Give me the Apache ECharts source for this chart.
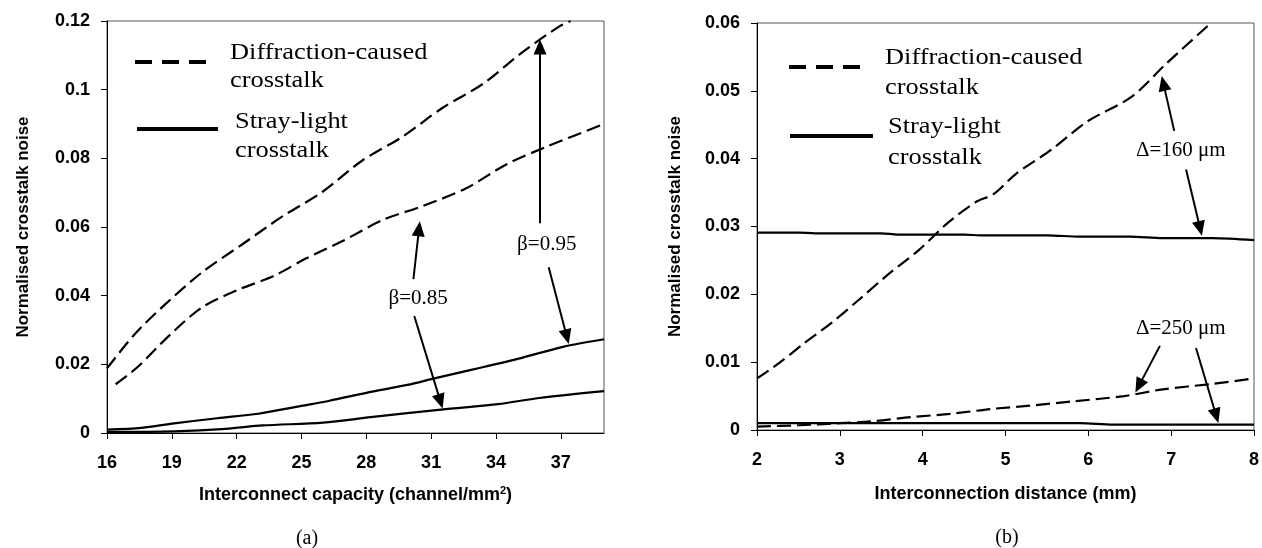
<!DOCTYPE html>
<html>
<head>
<meta charset="utf-8">
<script src="https://cdn.jsdelivr.net/npm/echarts@6/dist/echarts.min.js"></script>
<style>
html,body{margin:0;padding:0;background:#fff;}
#c{width:1262px;height:548px;}
</style>
</head>
<body>
<div id="c"></div>
<script>
// ---- Panel (a): x = interconnect capacity (channel/mm^2) ----
const aDiff095 = [[16,0.0188],[17.24,0.0285],[18.54,0.0366],[20.4,0.0468],[22.25,0.0549],[24.1,0.063],[25.96,0.0702],[27.8,0.0793],[29.7,0.0864],[31.5,0.0946],[33.4,0.1017],[35.2,0.1108],[36.9,0.1183],[37.45,0.12]];
const aDiff085 = [[16.4,0.0142],[17.43,0.0193],[18.9,0.0285],[20.4,0.0366],[22.07,0.0417],[23.74,0.0458],[25.2,0.0508],[26.9,0.0559],[28.75,0.062],[30.6,0.0661],[32.6,0.0712],[34.5,0.0783],[36.35,0.0834],[39,0.09]];
const aStray095 = [[16,0.001],[17.6,0.0015],[19.1,0.0028],[21.1,0.0043],[23,0.0056],[25,0.0079],[26.3,0.0094],[28,0.0117],[29.9,0.014],[31.2,0.016],[33,0.0186],[35.2,0.0219],[37.1,0.0251],[39,0.0273]];
const aStray085 = [[16,0.0003],[19.1,0.0005],[21.5,0.0012],[23.2,0.0022],[26,0.003],[28.2,0.0046],[29.9,0.0058],[31.9,0.0071],[34.1,0.0084],[36,0.0102],[39,0.0122]];
const aXRange = {min:16, max:39, interval:3};
const aXTickValues = [16,19,22,25,28,31,34,37];
const aYTicks = {min:0, max:0.12, interval:0.02};

// ---- Panel (b): x = interconnection distance (mm) ----
const bDiff160 = [[2,0.0076],[2.27,0.0099],[2.56,0.0127],[2.9,0.0158],[3.23,0.0192],[3.57,0.0228],[3.96,0.0266],[4.3,0.0305],[4.64,0.0336],[4.86,0.0348],[5.12,0.0377],[5.55,0.0413],[5.99,0.0455],[6.52,0.0491],[6.94,0.054],[7.48,0.06]];
const bStray160 = [[2,0.0291],[2.5,0.0291],[2.7,0.029],[3.5,0.029],[3.7,0.0288],[4.5,0.0288],[4.7,0.0287],[5.5,0.0287],[5.9,0.0285],[6.5,0.0285],[6.9,0.0283],[7.5,0.0283],[8,0.028]];
const bDiff250 = [[2,0.0005],[2.5,0.0007],[3,0.001],[3.4,0.0013],[3.86,0.0019],[4.35,0.0024],[4.83,0.0031],[5.3,0.0036],[5.8,0.0042],[6.43,0.005],[6.9,0.006],[7.5,0.0068],[8,0.0076]];
const bStray250 = [[2,0.001],[5.9,0.001],[6.3,0.0008],[8,0.0008]];
const bXRange = {min:2, max:8, interval:1};
const bXTickValues = [2,3,4,5,6,7,8];
const bYTicks = {min:0, max:0.06, interval:0.01};

// ---- Annotations (data coordinates) ----
const aLabels = [{text:'β=0.95', at:[36.35,0.055]},{text:'β=0.85', at:[30.4,0.0393]}];
const aArrows = [[[36.04,0.0611],[36.04,0.1124]],[[36.44,0.0483],[37.28,0.028]],[[30.18,0.0448],[30.44,0.0595]],[[30.22,0.0341],[31.43,0.0092]]];
const bLabels = [{text:'Δ=160 μm', at:[7.116,0.0412]},{text:'Δ=250 μm', at:[7.116,0.0149]}];
const bArrows = [[[7.037,0.0441],[6.906,0.0511]],[[7.18,0.0384],[7.35,0.0297]],[[6.864,0.0124],[6.61,0.0065]],[[7.30,0.0121],[7.544,0.0021]]];

const SANS = '"Liberation Sans", Arial, sans-serif';
const SERIF = '"Liberation Serif", "Times New Roman", serif';

function fmt(v){ return String(+v.toFixed(4)); }

function xAxis(idx, t, ticks, name, gap){
  return {
    type:'value', gridIndex:idx, min:t.min, max:t.max, interval:t.interval,
    name:name, nameLocation:'middle', nameGap:gap,
    nameTextStyle:{fontFamily:SANS, fontWeight:'bold', fontSize:18, color:'#000',
      rich:{sup:{fontFamily:SANS, fontWeight:'bold', fontSize:11, color:'#000', verticalAlign:'top', padding:[0,0,10,0]}}},
    axisLine:{show:true, onZero:false, lineStyle:{color:'#000', width:1}},
    axisTick:{show:true, inside:false, length:6, lineStyle:{color:'#000'}, customValues:ticks},
    axisLabel:{fontFamily:SANS, fontWeight:'bold', fontSize:18, color:'#000', margin:21, customValues:ticks},
    splitLine:{show:false}
  };
}
function yAxis(idx, t, gap){
  return {
    type:'value', gridIndex:idx, min:t.min, max:t.max, interval:t.interval,
    name:'Normalised crosstalk noise', nameLocation:'middle', nameGap:gap,
    nameTextStyle:{fontFamily:SANS, fontWeight:'bold', fontSize:17, color:'#000'},
    axisLine:{show:true, lineStyle:{color:'#000', width:1}},
    axisTick:{show:true, inside:false, length:6, lineStyle:{color:'#000'}},
    axisLabel:{fontFamily:SANS, fontWeight:'bold', fontSize:18, color:'#000', margin:17, formatter:fmt},
    splitLine:{show:false}
  };
}
function curve(idx, data, dashed){
  return {
    type:'line', xAxisIndex:idx, yAxisIndex:idx, data:data, showSymbol:false, symbol:'none',
    smooth:0.3, clip:true, silent:true,
    lineStyle:{color:'#000', width:2.2, type: dashed ? [14,6] : 'solid'}
  };
}
function annot(idx, labels, arrows){
  return {
    type:'line', xAxisIndex:idx, yAxisIndex:idx, data:[], silent:true,
    markPoint:{
      symbol:'circle', symbolSize:1, itemStyle:{color:'rgba(0,0,0,0)'},
      label:{show:true, position:'inside', color:'#000', fontFamily:SERIF, fontSize:21, formatter:p=>p.name},
      data: labels.map(l=>({name:l.text, coord:l.at}))
    },
    markLine:{
      silent:true, symbol:['none','triangle'], symbolSize:[13,15], precision:6,
      label:{show:false},
      lineStyle:{color:'#000', width:2, type:'solid'},
      emphasis:{disabled:true},
      data: arrows.map(a=>[{coord:a[0], symbol:'none'},{coord:a[1], symbol:'triangle', symbolSize:[13,15]}])
    }
  };
}
function legendText(x, y, s){
  return {type:'text', x:x, y:y, scaleX:1.1, style:{text:s, font:'24px '+SERIF, fill:'#000', textVerticalAlign:'middle'}};
}
function legendGraphics(o){
  return [
    {type:'line', shape:{x1:o.dx1, y1:o.dy, x2:o.dx2, y2:o.dy}, style:{stroke:'#000', lineWidth:4, lineDash:[17,10]}},
    {type:'line', shape:{x1:o.sx1, y1:o.sy, x2:o.sx2, y2:o.sy}, style:{stroke:'#000', lineWidth:4}},
    legendText(o.dtx, o.dty1, 'Diffraction-caused'),
    legendText(o.dtx, o.dty2, 'crosstalk'),
    legendText(o.stx, o.sty1, 'Stray-light'),
    legendText(o.stx, o.sty2, 'crosstalk')
  ];
}

const chart = echarts.init(document.getElementById('c'), null, {renderer:'canvas'});
chart.setOption({
  animation:false,
  backgroundColor:'#fff',
  grid:[
    {left:107, top:21, width:497, height:412, show:true, borderColor:'#555', borderWidth:1},
    {left:757, top:23, width:500, height:407, show:true, borderColor:'#555', borderWidth:1}
  ],
  xAxis:[ xAxis(0, aXRange, aXTickValues, 'Interconnect capacity (channel/mm{sup|2})', 52), xAxis(1, bXRange, bXTickValues, 'Interconnection distance (mm)', 55) ],
  yAxis:[ yAxis(0, aYTicks, 75), yAxis(1, bYTicks, 73) ],
  series:[
    curve(0, aDiff095, true), curve(0, aDiff085, true), curve(0, aStray095, false), curve(0, aStray085, false),
    curve(1, bDiff160, true), curve(1, bStray160, false), curve(1, bDiff250, true), curve(1, bStray250, false),
    annot(0, aLabels, aArrows), annot(1, bLabels, bArrows)
  ],
  graphic:[
    ...legendGraphics({dx1:135, dx2:207, dy:62, sx1:137, sx2:218, sy:129, dtx:230, dty1:53, dty2:81, stx:235, sty1:122, sty2:151}),
    ...legendGraphics({dx1:789, dx2:862, dy:67, sx1:790, sx2:873, sy:136, dtx:885, dty1:58, dty2:88, stx:888, sty1:127, sty2:158}),
    {type:'text', x:307, y:539, style:{text:'(a)', font:'20px '+SERIF, fill:'#000', textAlign:'center', textVerticalAlign:'middle'}},
    {type:'text', x:1007, y:538, style:{text:'(b)', font:'20px '+SERIF, fill:'#000', textAlign:'center', textVerticalAlign:'middle'}}
  ]
});
</script>
</body>
</html>
